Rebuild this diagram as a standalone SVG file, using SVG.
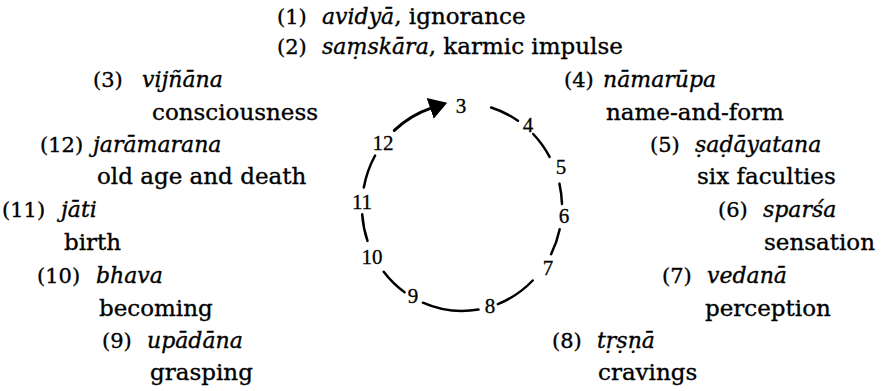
<svg xmlns="http://www.w3.org/2000/svg" width="890" height="391" viewBox="0 0 890 391">
<style>
.t{font-family:"DejaVu Serif","Liberation Serif",serif;font-size:23px;fill:#000;stroke:#000;stroke-width:0.35}
.i{font-style:italic;font-size:22px}
.p{font-size:21px}
.n{font-family:"Liberation Serif",serif;font-size:21px;fill:#000;stroke:#000;stroke-width:0.3;text-anchor:middle}
.c{fill:none;stroke:#000;stroke-width:2.5;stroke-linecap:round}
.a{stroke-width:3}
</style>
<defs>
<marker id="ah" markerUnits="userSpaceOnUse" markerWidth="19" markerHeight="24" viewBox="0 0 19 24" refX="1" refY="12" orient="auto">
<path d="M0,1 L18,12 L0,23 z" fill="#000"/>
</marker>
</defs>
<rect width="890" height="391" fill="#fff"/>

<g id="link1"><text class="t" x="277" y="24"><tspan class="p">(1)</tspan><tspan class="i" x="322">avidyā</tspan>, ignorance</text></g>
<g id="link2"><text class="t" x="277" y="54"><tspan class="p">(2)</tspan><tspan class="i" x="322">saṃskāra</tspan>, karmic impulse</text></g>

<g id="link3"><text class="t p" x="93" y="87">(3)<tspan class="i" x="142">vijñāna</tspan></text><text class="t" x="152" y="120">consciousness</text></g>
<g id="link12"><text class="t p" x="40" y="152">(12)<tspan class="i" x="93">jarāmarana</tspan></text><text class="t" x="97" y="184">old age and death</text></g>
<g id="link11"><text class="t p" x="2" y="217">(11)<tspan class="i" x="61">jāti</tspan></text><text class="t" x="64" y="250">birth</text></g>
<g id="link10"><text class="t p" x="37" y="283">(10)<tspan class="i" x="96">bhava</tspan></text><text class="t" x="99" y="316">becoming</text></g>
<g id="link9"><text class="t p" x="102" y="348">(9)<tspan class="i" x="147">upādāna</tspan></text><text class="t" x="150" y="380">grasping</text></g>

<g id="link4"><text class="t p" x="564" y="87">(4)<tspan class="i" x="603">nāmarūpa</tspan></text><text class="t" x="606" y="120">name-and-form</text></g>
<g id="link5"><text class="t p" x="650" y="152">(5)<tspan class="i" x="695">ṣaḍāyatana</tspan></text><text class="t" x="697" y="184">six faculties</text></g>
<g id="link6"><text class="t p" x="718" y="217">(6)<tspan class="i" x="763">sparśa</tspan></text><text class="t" x="764" y="250">sensation</text></g>
<g id="link7"><text class="t p" x="662" y="283">(7)<tspan class="i" x="707">vedanā</tspan></text><text class="t" x="705" y="316">perception</text></g>
<g id="link8"><text class="t p" x="552" y="348">(8)<tspan class="i" x="597">tṛṣṇā</tspan></text><text class="t" x="598" y="380">cravings</text></g>

<g id="cyc3"><text class="n" x="461" y="113">3</text></g>
<g id="cyc4"><text class="n" x="528" y="132">4</text></g>
<g id="cyc5"><text class="n" x="561" y="174">5</text></g>
<g id="cyc6"><text class="n" x="564" y="223">6</text></g>
<g id="cyc7"><text class="n" x="548" y="275">7</text></g>
<g id="cyc8"><text class="n" x="490" y="313">8</text></g>
<g id="cyc9"><text class="n" x="413" y="303">9</text></g>
<g id="cyc10"><text class="n" x="372" y="264">10</text></g>
<g id="cyc11"><text class="n" x="362" y="209">11</text></g>
<g id="cyc12"><text class="n" x="383" y="150">12</text></g>

<g id="connectors">
<path class="c" d="M491.2,107.5 A100,104 0 0 1 517.9,120.8"/>
<path class="c" d="M533.2,134.0 A100,104 0 0 1 549.6,156.9"/>
<path class="c" d="M559.4,183.6 A100,104 0 0 1 562.0,203.9"/>
<path class="c" d="M559.7,229.3 A100,104 0 0 1 551.1,254.2"/>
<path class="c" d="M532.7,280.5 A100,104 0 0 1 497.8,304.1"/>
<path class="c" d="M478.5,309.6 A100,104 0 0 1 422.9,302.7"/>
<path class="c" d="M404.6,292.2 A100,104 0 0 1 383.7,271.7"/>
<path class="c" d="M367.5,240.9 A100,104 0 0 1 362.2,214.3"/>
<path class="c" d="M363.8,187.5 A100,104 0 0 1 375.1,155.5"/>
<path class="c a" d="M394.3,130.4 A100,104 0 0 1 431.1,108.1" marker-end="url(#ah)"/>
</g>
</svg>
